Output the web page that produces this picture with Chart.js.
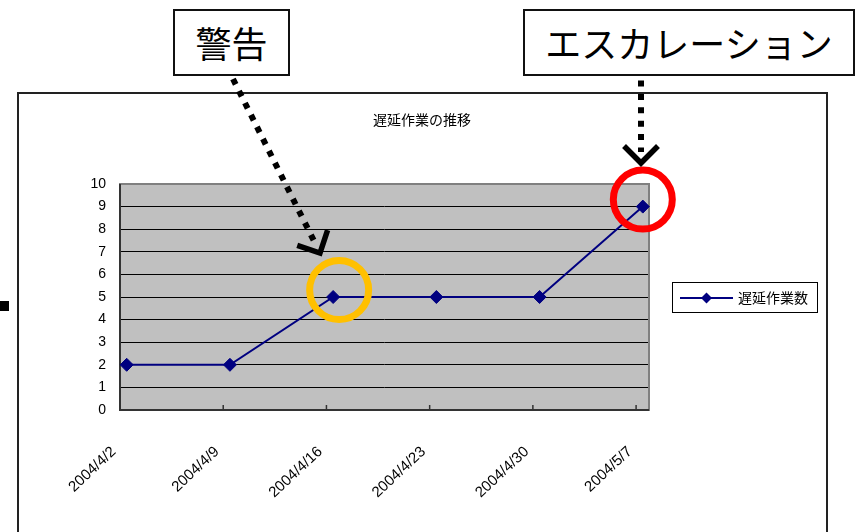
<!DOCTYPE html>
<html lang="ja">
<head>
<meta charset="utf-8">
<title>遅延作業の推移</title>
<script src="https://cdn.jsdelivr.net/npm/chart.js@4/dist/chart.umd.min.js"></script>
<style>
  html, body { margin: 0; padding: 0; background: #fff; }
  body { position: relative; width: 856px; height: 532px; overflow: hidden; }
  #frame {
    position: absolute; left: 17px; top: 92px; width: 811px; height: 460px;
    box-sizing: border-box; border: 2px solid #222; border-bottom: none;
  }
  #mark { position: absolute; left: 0; top: 301px; width: 9px; height: 10px; background: #000; }
  #chart { position: absolute; left: 0; top: 0; }
  .callout {
    position: absolute; top: 9px; height: 67px; box-sizing: border-box;
    border: 2px solid #111; background: #fff;
    font-family: 'Noto Sans CJK JP', sans-serif; font-size: 36px; line-height: 63px;
    text-align: center; color: #000;
  }
</style>
</head>
<body>
<div id="frame"></div>
<div id="mark"></div>
<canvas id="chart" width="856" height="532"></canvas>
<div class="callout" style="left:173px; width:117px;">警告</div>
<div class="callout" style="left:523px; width:332px;">エスカレーション</div>

<script>
// --- data ---
const chartTitle = '遅延作業の推移';
const seriesName = '遅延作業数';
const dates = ['2004/4/2', '2004/4/9', '2004/4/16', '2004/4/23', '2004/4/30', '2004/5/7'];
const delayedTasks = [2, 2, 5, 5, 5, 9];
const yMin = 0;
const yMax = 10;
const yStep = 1;

const NAVY = '#000080';
const jpFont = "'Noto Sans CJK JP', sans-serif";
const TICK_SHIFT = 0.065;   // excel draws the tick marks a bit left of the points
const LABEL_SHIFT = 0.125;  // and the slanted labels a bit further left still

// --- gray plot area, frame and inward tick marks ---
const plotFrame = {
  id: 'plotFrame',
  beforeDraw(chart) {
    const { ctx, chartArea: a } = chart;
    ctx.save();
    ctx.fillStyle = '#c0c0c0';
    ctx.fillRect(a.left, a.top, a.width, a.height);
    ctx.restore();
  },
  beforeDatasetsDraw(chart) {
    const { ctx, chartArea: a, scales } = chart;
    const x = scales.x;
    ctx.save();
    ctx.strokeStyle = '#808080';
    ctx.lineWidth = 2;
    ctx.strokeRect(a.left, a.top, a.width, a.height);
    ctx.strokeStyle = '#333';
    ctx.beginPath();
    ctx.moveTo(a.left, a.top);
    ctx.lineTo(a.left, a.bottom);
    ctx.lineTo(a.right, a.bottom);
    ctx.stroke();
    ctx.lineWidth = 1.5;
    dates.forEach((_, i) => {
      const px = x.getPixelForValue(i - TICK_SHIFT);
      ctx.beginPath();
      ctx.moveTo(px, a.bottom);
      ctx.lineTo(px, a.bottom - 5);
      ctx.stroke();
    });
    ctx.restore();
  }
};

// --- rings round points + dotted arrows from the callouts ---
function drawArrow(ctx, from, tip) {
  const dx = tip[0] - from[0], dy = tip[1] - from[1];
  const len = Math.hypot(dx, dy), ux = dx / len, uy = dy / len;
  ctx.save();
  ctx.strokeStyle = '#000';
  ctx.lineWidth = 6;
  ctx.setLineDash([6, 7.4]);
  ctx.beginPath();
  ctx.moveTo(from[0], from[1]);
  ctx.lineTo(from[0] + ux * (len - 11), from[1] + uy * (len - 11));
  ctx.stroke();
  ctx.setLineDash([]);
  ctx.lineWidth = 5.5;
  ctx.lineJoin = 'miter';
  const arm = 24, c = Math.cos(Math.PI / 4), s = Math.sin(Math.PI / 4);
  const bx = -ux, by = -uy;
  ctx.beginPath();
  ctx.moveTo(tip[0] + arm * (bx * c - by * s), tip[1] + arm * (bx * s + by * c));
  ctx.lineTo(tip[0], tip[1]);
  ctx.lineTo(tip[0] + arm * (bx * c + by * s), tip[1] + arm * (-bx * s + by * c));
  ctx.stroke();
  ctx.restore();
}

const highlights = {
  id: 'highlights',
  afterDatasetsDraw(chart, args, opts) {
    const { ctx, scales: { x, y } } = chart;
    opts.rings.forEach(r => {
      const cx = x.getPixelForValue(r.index) + r.dx;
      const cy = y.getPixelForValue(delayedTasks[r.index]) + r.dy;
      ctx.save();
      ctx.beginPath();
      ctx.arc(cx, cy, 29.5, 0, Math.PI * 2);
      ctx.strokeStyle = r.color;
      ctx.lineWidth = 7;
      ctx.stroke();
      ctx.restore();
    });
    opts.arrows.forEach(a => drawArrow(ctx, a.from, a.tip));
  }
};

// --- boxed legend to the right of the plot ---
const sideLegend = {
  id: 'sideLegend',
  afterDraw(chart) {
    const { ctx, chartArea: a } = chart;
    const ds = chart.data.datasets[0];
    ctx.save();
    ctx.font = '14px ' + jpFont;
    const tw = ctx.measureText(ds.label).width;
    const left = a.right + 23, h = 30, top = Math.round((a.top + a.bottom) / 2 - h / 2);
    const w = 8 + 53 + 5 + tw + 9;
    ctx.fillStyle = '#fff';
    ctx.fillRect(left, top, w, h);
    ctx.strokeStyle = '#000';
    ctx.lineWidth = 1;
    ctx.strokeRect(left + 0.5, top + 0.5, w, h);
    const cy = top + h / 2 + 1;
    ctx.strokeStyle = ds.borderColor;
    ctx.lineWidth = ds.borderWidth;
    ctx.beginPath();
    ctx.moveTo(left + 8, cy);
    ctx.lineTo(left + 61, cy);
    ctx.stroke();
    const px = left + 34.5, r = 5.5;
    ctx.fillStyle = ds.pointBackgroundColor;
    ctx.beginPath();
    ctx.moveTo(px, cy - r); ctx.lineTo(px + r, cy); ctx.lineTo(px, cy + r); ctx.lineTo(px - r, cy);
    ctx.closePath();
    ctx.fill();
    ctx.fillStyle = '#000';
    ctx.textBaseline = 'middle';
    ctx.fillText(ds.label, left + 66, cy);
    ctx.restore();
  }
};

new Chart(document.getElementById('chart'), {
  type: 'line',
  data: {
    datasets: [{
      label: seriesName,
      data: delayedTasks.map((v, i) => ({ x: i, y: v })),
      borderColor: NAVY,
      borderWidth: 2,
      backgroundColor: NAVY,
      pointStyle: 'rectRot',
      pointRadius: 6.5,
      pointBackgroundColor: NAVY,
      pointBorderColor: NAVY,
      pointBorderWidth: 1,
      tension: 0,
      clip: false
    }]
  },
  options: {
    responsive: false,
    animation: false,
    devicePixelRatio: 1,
    layout: { padding: { top: 111, left: 17, right: 29, bottom: 0 } },
    plugins: {
      legend: { display: false },
      tooltip: { enabled: false },
      title: {
        display: true,
        text: chartTitle,
        color: '#000',
        font: { family: jpFont, size: 14, weight: 'normal' },
        padding: { top: 0, bottom: 56.2 }
      },
      highlights: {
        rings: [
          { index: 2, color: '#FFC000', dx: 6, dy: -7 },
          { index: 5, color: '#FF0000', dx: 0, dy: -7 }
        ],
        arrows: [
          { from: [233, 79], tip: [320, 253] },
          { from: [641, 80.5], tip: [641, 163] }
        ]
      }
    },
    scales: {
      x: {
        type: 'linear',
        min: -TICK_SHIFT,
        max: 5.06,
        afterBuildTicks: s => { s.ticks = dates.map((_, i) => ({ value: i - LABEL_SHIFT })); },
        afterFit: s => { s.height = 122; },
        grid: { display: false, drawTicks: false },
        border: { display: false },
        ticks: {
          autoSkip: false,
          minRotation: 43,
          maxRotation: 43,
          padding: 33,
          color: '#000',
          font: { family: "'Liberation Sans', Arial, sans-serif", size: 15 },
          callback: (v, i) => dates[i]
        }
      },
      y: {
        min: yMin,
        max: yMax,
        afterFit: s => { s.width = 103; },
        grid: { color: '#000', lineWidth: 1, drawTicks: false },
        border: { display: false },
        ticks: {
          stepSize: yStep,
          padding: 14,
          color: '#000',
          font: { family: "'Liberation Sans', Arial, sans-serif", size: 14 }
        }
      },
      pad: {
        type: 'linear',
        position: 'right',
        afterFit: s => { s.width = 178; },
        grid: { display: false, drawTicks: false },
        border: { display: false },
        ticks: { display: false }
      }
    }
  },
  plugins: [plotFrame, highlights, sideLegend]
});
</script>
</body>
</html>
